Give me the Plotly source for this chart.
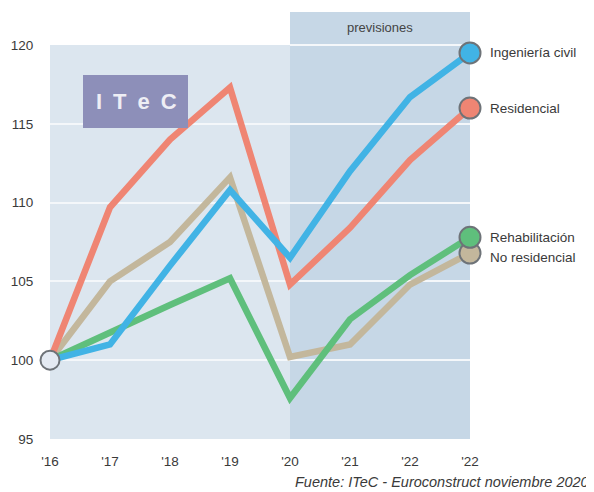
import plotly.graph_objects as go

years = ["'16", "'17", "'18", "'19", "'20", "'21", "'22", "'22"]
x_pos = list(range(len(years)))

ingenieria = [100, 101.0, 106.0, 110.8, 106.5, 112.0, 116.7, 119.5]
residencial = [100, 109.7, 114.0, 117.3, 104.8, 108.4, 112.7, 116.0]
no_residencial = [100, 105.0, 107.5, 111.6, 100.2, 101.0, 104.8, 106.8]
rehabilitacion = [100, 101.8, 103.5, 105.2, 97.6, 102.6, 105.4, 107.8]

y_ticks = [95, 100, 105, 110, 115, 120]

series = [
    ("No residencial", no_residencial, "#c3b79c"),
    ("Rehabilitación", rehabilitacion, "#5fbf7c"),
    ("Residencial", residencial, "#ef8573"),
    ("Ingeniería civil", ingenieria, "#41b3e5"),
]

label_y = {"Ingeniería civil": 119.5, "Residencial": 116.0,
           "Rehabilitación": 107.8, "No residencial": 106.5}

FONT = "Liberation Sans, Arial"
fig = go.Figure()

for name, vals, col in series:
    fig.add_trace(go.Scatter(
        x=x_pos, y=vals, mode="lines",
        line=dict(color=col, width=6.5),
        hoverinfo="skip", showlegend=False, cliponaxis=False))

for name, vals, col in series:
    fig.add_trace(go.Scatter(
        x=[x_pos[-1]], y=[vals[-1]], mode="markers",
        marker=dict(size=21, color=col, line=dict(color="#6e7378", width=2)),
        showlegend=False, cliponaxis=False, hoverinfo="skip"))
    fig.add_annotation(x=x_pos[-1], y=label_y[name], text=name,
                       xref="x", yref="y", showarrow=False, xanchor="left",
                       yanchor="middle", xshift=18,
                       font=dict(size=13.5, color="#3a3a3a", family=FONT))

fig.add_trace(go.Scatter(
    x=[x_pos[0]], y=[100], mode="markers",
    marker=dict(size=19, color="#e4eaf2", line=dict(color="#6e7378", width=2)),
    showlegend=False, cliponaxis=False, hoverinfo="skip"))

# forecast region
fig.add_shape(type="rect", xref="x", yref="paper", x0=4, x1=7, y0=0, y1=1.084,
              fillcolor="#c6d7e6", line=dict(width=0), layer="below")
fig.add_shape(type="line", xref="x", yref="paper", x0=4, x1=7, y0=1.0, y1=1.0,
              line=dict(color="#f4f7fa", width=2), layer="below")
fig.add_annotation(x=5.5, y=1.045, xref="x", yref="paper", text="previsiones",
                   showarrow=False, xanchor="center", yanchor="middle",
                   font=dict(size=13, color="#444444", family=FONT))

# ITeC logo box
fig.add_shape(type="rect", xref="paper", yref="paper", x0=(83-50)/420, x1=(188-50)/420,
              y0=(439-128)/394, y1=(439-75)/394, fillcolor="#8d8fb9",
              line=dict(width=0), layer="above")
fig.add_annotation(x=(136-50)/420, y=(439-101.5)/394, xref="paper", yref="paper",
                   text="<b>I\u2002T\u2002e\u2002C</b>", showarrow=False, xanchor="center",
                   yanchor="middle",
                   font=dict(size=22, color="#eeeef5", family=FONT))

fig.add_annotation(x=(591-50)/420, y=(439-482)/394, xref="paper", yref="paper",
                   text="<i>Fuente: ITeC - Euroconstruct noviembre 2020</i>",
                   showarrow=False, xanchor="right", yanchor="middle",
                   font=dict(size=14.5, color="#3a3a3a", family=FONT))

# page body has an 8px margin, so the figure is 8px smaller and margins shifted
fig.update_layout(
    width=586, height=484,
    margin=dict(l=42, r=124, t=37, b=53),
    paper_bgcolor="white", plot_bgcolor="#dce6ef",
    xaxis=dict(range=[0, 7], tickvals=x_pos, ticktext=years, showgrid=False,
               zeroline=False, showline=False, ticks="outside", ticklen=10,
               tickcolor="rgba(0,0,0,0)", automargin=False,
               tickfont=dict(size=13.5, color="#3a3a3a", family=FONT)),
    yaxis=dict(range=[95, 120], tickvals=y_ticks, showgrid=True, gridcolor="#f4f7fa",
               gridwidth=2, zeroline=False, showline=False, ticks="outside",
               ticklen=13, tickcolor="rgba(0,0,0,0)", automargin=False,
               tickfont=dict(size=13.5, color="#3a3a3a", family=FONT)),
)

fig.write_html("out.html")
